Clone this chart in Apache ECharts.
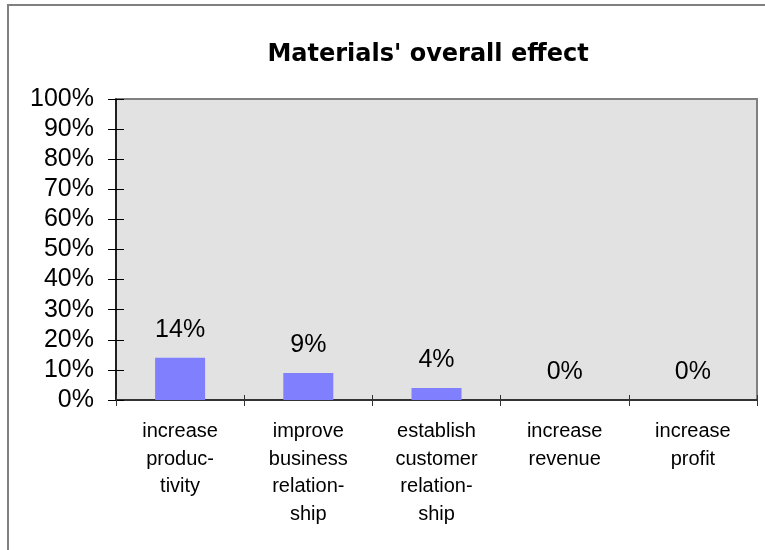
<!DOCTYPE html>
<html>
<head>
<meta charset="utf-8">
<script src="https://cdn.jsdelivr.net/npm/echarts@6/dist/echarts.min.js"></script>
<style>
  html, body { margin: 0; padding: 0; background: #ffffff; }
  #chart { width: 765px; height: 550px; }
</style>
</head>
<body>
<div id="chart"></div>
<script>
// Share of respondents reporting each effect of the materials
const chartTitle = "Materials' overall effect";
const categories = [
  'increase\nproduc-\ntivity',
  'improve\nbusiness\nrelation-\nship',
  'establish\ncustomer\nrelation-\nship',
  'increase\nrevenue',
  'increase\nprofit'
];
const percentValues = [14, 9, 4, 0, 0];
const yTickValues = [0, 10, 20, 30, 40, 50, 60, 70, 80, 90, 100];

const FONT = '"Liberation Sans", Arial, sans-serif';
const chart = echarts.init(document.getElementById('chart'), null, { renderer: 'canvas' });

const yMin = yTickValues[0];
const yMax = yTickValues[yTickValues.length - 1];
const yStep = yTickValues[1] - yTickValues[0];

chart.setOption({
  animation: false,
  backgroundColor: '#ffffff',
  graphic: [
    {
      type: 'rect',
      shape: { x: 8, y: 5, width: 900, height: 700 },
      style: { fill: 'none', stroke: '#808080', lineWidth: 2 },
      z: -10
    }
  ],
  title: {
    text: chartTitle,
    left: 428,
    top: 43,
    textAlign: 'center',
    padding: 0,
    textStyle: {
      fontFamily: '"DejaVu Sans", sans-serif',
      fontWeight: 'bold',
      fontSize: 24,
      color: '#000000'
    }
  },
  grid: {
    left: 116,
    right: 8,
    top: 99,
    bottom: 150,
    show: true,
    backgroundColor: '#e2e2e2',
    borderColor: '#808080',
    borderWidth: 2
  },
  xAxis: [
    {
      type: 'category',
      data: categories,
      position: 'bottom',
      axisLine: { show: true, lineStyle: { color: '#333333', width: 2 } },
      axisTick: { show: true, length: 6, lineStyle: { color: '#333333', width: 1 } },
      axisLabel: {
        interval: 0,
        margin: 18,
        fontFamily: FONT,
        fontSize: 20,
        lineHeight: 27.5,
        color: '#000000',
        verticalAlign: 'top'
      },
      splitLine: { show: false }
    },
    {
      type: 'category',
      data: categories,
      position: 'bottom',
      axisLine: { show: false },
      axisTick: { show: true, inside: true, length: 5, lineStyle: { color: '#333333', width: 1 } },
      axisLabel: { show: false },
      splitLine: { show: false }
    }
  ],
  yAxis: [
    {
      type: 'value',
      position: 'left',
      min: yMin,
      max: yMax,
      interval: yStep,
      axisLine: { show: true, lineStyle: { color: '#000000', width: 1.5 } },
      axisTick: { show: true, length: 8, lineStyle: { color: '#000000', width: 1 } },
      axisLabel: {
        formatter: '{value}%',
        margin: 22,
        fontFamily: FONT,
        fontSize: 25,
        color: '#000000'
      },
      splitLine: { show: false }
    },
    {
      type: 'value',
      position: 'left',
      offset: 0,
      min: yMin,
      max: yMax,
      interval: yStep,
      axisLine: { show: false },
      axisTick: { show: true, inside: true, length: 8, lineStyle: { color: '#000000', width: 1 } },
      axisLabel: { show: false },
      splitLine: { show: false }
    }
  ],
  series: [
    {
      type: 'bar',
      data: percentValues,
      xAxisIndex: 0,
      yAxisIndex: 0,
      barWidth: 50,
      itemStyle: { color: '#8080ff' },
      label: {
        show: true,
        position: 'top',
        distance: 15,
        formatter: '{c}%',
        fontFamily: FONT,
        fontSize: 25,
        color: '#000000'
      }
    }
  ]
});
</script>
</body>
</html>
